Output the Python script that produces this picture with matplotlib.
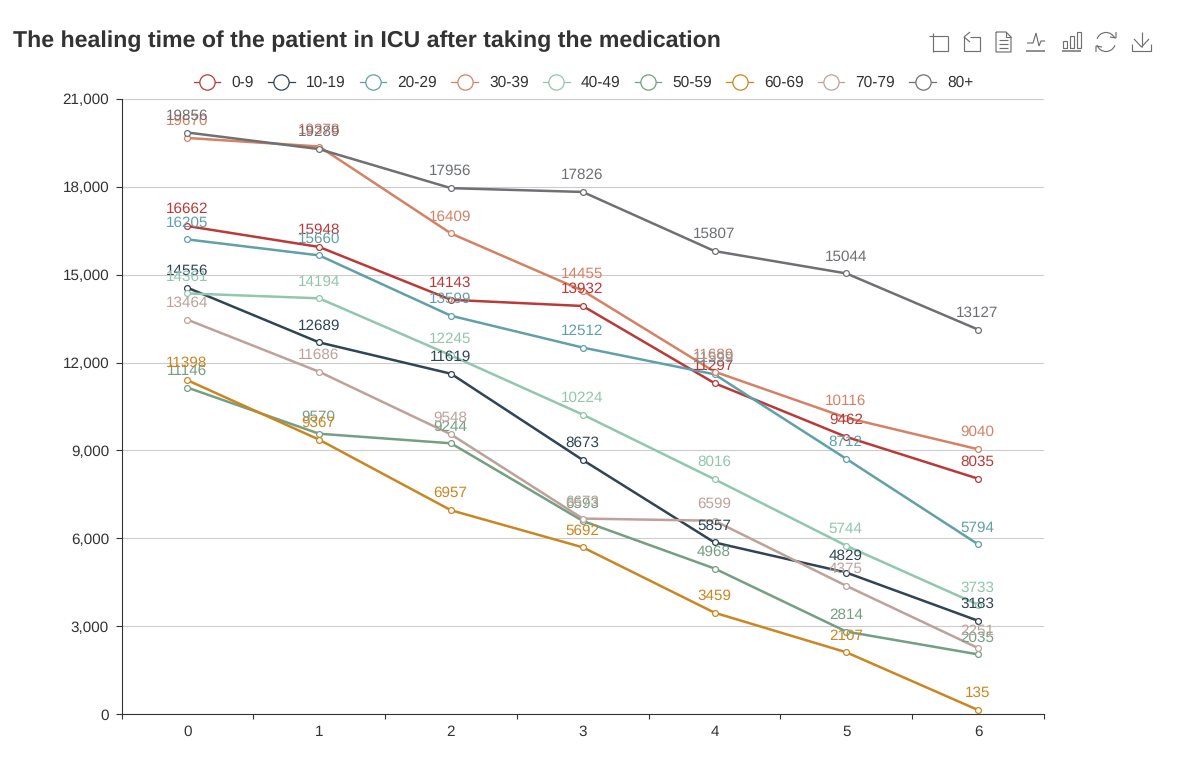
import matplotlib
matplotlib.use("Agg")
import matplotlib.pyplot as plt
from matplotlib.lines import Line2D
from matplotlib.patches import Arc

plt.rcParams['font.family'] = ['Liberation Sans', 'DejaVu Sans']
plt.rcParams['text.hinting'] = 'no_hinting'

W, H = 1184, 772

x_vals = [0, 1, 2, 3, 4, 5, 6]
y_ticks = [0, 3000, 6000, 9000, 12000, 15000, 18000, 21000]

age_0_9 = [16662, 15948, 14143, 13932, 11297, 9462, 8035]
age_10_19 = [14556, 12689, 11619, 8673, 5857, 4829, 3183]
age_20_29 = [16205, 15660, 13599, 12512, 11599, 8712, 5794]
age_30_39 = [19670, 19378, 16409, 14455, 11689, 10116, 9040]
age_40_49 = [14361, 14194, 12245, 10224, 8016, 5744, 3733]
age_50_59 = [11146, 9570, 9244, 6593, 4968, 2814, 2035]
age_60_69 = [11398, 9367, 6957, 5692, 3459, 2107, 135]
age_70_79 = [13464, 11686, 9548, 6673, 6599, 4375, 2251]
age_80 = [19856, 19289, 17956, 17826, 15807, 15044, 13127]

series_names = ['0-9', '10-19', '20-29', '30-39', '40-49', '50-59', '60-69', '70-79', '80+']
series_vals = [age_0_9, age_10_19, age_20_29, age_30_39, age_40_49, age_50_59, age_60_69, age_70_79, age_80]
colors = ['#b93a38', '#2f4554', '#61a0a8', '#d48265', '#91c7ae', '#749f83', '#ca8622', '#bda29a', '#6e7074']

fig = plt.figure(figsize=(W / 100, H / 100), dpi=100)
ax = fig.add_axes([121.5 / W, 1 - 714 / H, 922.5 / W, 615 / H])

# grid first, the lines go over it
ax.set_axisbelow(True)
ax.yaxis.grid(True, color='#cccccc', lw=0.8)

for i, (name, vals, col) in enumerate(zip(series_names, series_vals, colors)):
    ax.plot(x_vals, vals, color=col, lw=1.8, marker='o', ms=4.2, mfc='white', mec=col, mew=0.9,
            zorder=3 + i * 0.01, clip_on=False)
    for x, v in zip(x_vals, vals):
        ax.annotate(str(v), (x, v), xytext=(-0.4, 9.3), textcoords='offset points', ha='center', va='baseline',
                    fontsize=11, color=col, zorder=5)

ax.set_xlim(-0.5, 6.5)
ax.set_ylim(0, 21000)
ax.set_yticks(y_ticks)
ax.set_yticklabels([f'{v:,}' for v in y_ticks])

# ticks sit on the band edges, labels in the band centres
ax.set_xticks([i - 0.5 for i in range(8)])
ax.set_xticklabels([])
ax.set_xticks(x_vals, minor=True)
ax.set_xticklabels([str(v) for v in x_vals], minor=True)
ax.tick_params(axis='x', which='minor', length=0, pad=8, labelsize=11, labelcolor='#333333')
ax.tick_params(axis='x', which='major', length=3.6, width=0.8, color='#333333')
ax.tick_params(axis='y', length=4.5, width=0.8, color='#333333', labelsize=11, labelcolor='#333333', pad=4.5)

for s in ['top', 'right']:
    ax.spines[s].set_visible(False)
for s in ['left', 'bottom']:
    ax.spines[s].set_color('#333333')
    ax.spines[s].set_linewidth(0.8)

fig.text(13 / W, 1 - 47 / H, 'The healing time of the patient in ICU after taking the medication',
         fontsize=16.62, fontweight='bold', color='#333333', ha='left', va='baseline')

handles = [Line2D([], [], color=c, lw=0.9, marker='o', ms=11, mfc='white', mec=c, mew=0.9) for c in colors]
ax.legend(handles, series_names, ncol=9, frameon=False, fontsize=11.2, labelcolor='#333333',
          loc='center', bbox_to_anchor=(583.5 / W, 1 - 83 / H), bbox_transform=fig.transFigure,
          handlelength=1.72, handletextpad=0.7, columnspacing=0.92, borderpad=0)

# toolbox icons, drawn in pixel coordinates on an overlay
ov = fig.add_axes([0, 0, 1, 1], facecolor='none')
ov.set_xlim(0, W)
ov.set_ylim(H, 0)
ov.axis('off')
ic = '#707070'


def stroke(xs, ys, lw=0.85):
    ov.plot(xs, ys, color=ic, lw=lw, solid_capstyle='butt', solid_joinstyle='miter')


# crop
stroke([933, 933], [33, 52])
stroke([929, 948], [36, 36])
stroke([933, 948, 948], [51, 51, 36])
# undo zoom
stroke([964, 964, 980, 980, 970], [37, 51, 51, 37, 37])
stroke([970, 964, 970], [32, 37, 42])
# data view
stroke([996, 996, 1011, 1011, 1006, 996], [32, 52, 52, 37, 32, 32])
stroke([1006, 1006, 1011], [32, 37, 37])
stroke([999, 1008], [40, 40])
stroke([999, 1008], [44, 44])
stroke([999, 1008], [48, 48])
# line
stroke([1027, 1033, 1036, 1039, 1041, 1045], [43, 43, 33, 46, 41, 41])
stroke([1026, 1045], [51, 51], 1.1)
# bar
for x0, top in [(1063, 41), (1070, 36), (1077, 32)]:
    stroke([x0, x0, x0 + 4, x0 + 4, x0], [48, top, top, 48, 48])
stroke([1062, 1081], [51, 51], 1.1)
# refresh
ov.add_patch(Arc((1106, 42), 19, 19, theta1=200, theta2=335, color=ic, lw=0.85))
ov.add_patch(Arc((1106, 42), 19, 19, theta1=20, theta2=160, color=ic, lw=0.85))
stroke([1110, 1116, 1116], [37, 38, 32])
stroke([1096, 1096, 1102], [52, 46, 47])
# save
stroke([1132, 1132, 1151, 1151], [44, 51, 51, 44])
stroke([1141.5, 1141.5], [32, 47])
stroke([1134, 1141.5, 1149], [39, 47, 39])

fig.savefig('out.png', dpi=100)
